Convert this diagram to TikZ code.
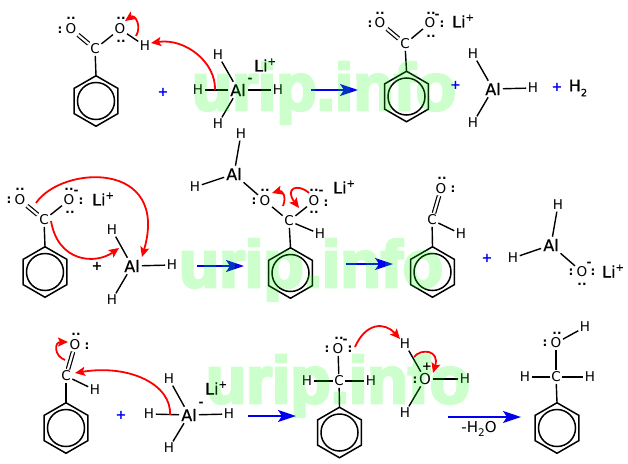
\documentclass[tikz,border=0pt]{standalone}
\usepackage{fontspec}
\usetikzlibrary{shapes.geometric,arrows.meta}
\setmainfont{DejaVu Sans}
\newfontfamily\wmfont[UprightFont={* Bold},FakeBold=4.5]{Liberation Sans}
\newfontfamily\heavyfont[FakeBold=0.6]{DejaVu Sans}
\newcommand{\lisup}{Li\raisebox{.42em}{\fontsize{10}{10}\selectfont +}}

\definecolor{rxblue}{RGB}{0,0,240}
\tikzset{
  atom/.style={inner sep=1.5pt,font=\fontsize{13.5}{14}\selectfont},
  metal/.style={inner sep=2pt,font=\fontsize{16}{16}\heavyfont},
  salt/.style={inner sep=0pt,font=\fontsize{16}{16}\heavyfont},
  pair/.style={inner sep=0pt,font=\fontsize{12}{12}\selectfont\bfseries},
  charge/.style={inner sep=0pt,font=\fontsize{12}{12}\selectfont\bfseries},
  plussign/.style={inner sep=0pt,text=rxblue,font=\fontsize{13}{13}\selectfont\bfseries},
  bond/.style={line width=1.4pt},
  dblbond/.style={double,line width=1.2pt,double distance=2.2pt},
  benzring/.style={draw,regular polygon,regular polygon sides=6,shape border rotate=30,minimum size=50.5pt,inner sep=0pt,outer sep=0pt,line width=1.5pt},
  benzcirc/.style={draw,circle,minimum size=37pt,inner sep=0pt,line width=1.5pt},
  rxarrow/.style={draw=rxblue,line width=2pt,-{Stealth[length=18pt,width=12pt,inset=4pt]}},
  curly/.style={draw=red,line width=1.8pt,-{Stealth[length=10pt,width=9pt,inset=2pt]}},
  sitemark/.style={inner sep=0pt,text=green,font=\fontsize{66}{66}\wmfont}
}

\begin{document}
\begin{tikzpicture}[x=1pt,y=-1pt]
\useasboundingbox (0,0) rectangle (628,463);

% first line: acid + hydride
\node (c1) at (95,49) [atom] {C};
\node (o1a) at (71,29) [atom] {O};
\node (o1b) at (120,29) [atom] {O};
\node (h1) at (145,46) [atom] {H};
\node (r1) at (96,101) [benzring] {};
\node (r1i) at (96,101) [benzcirc] {};
\node (p1a) at (60,30) [pair] {:};
\node (p1b) at (71,18) [pair] {..};
\node (p1c) at (121,18) [pair] {..};
\node (p1d) at (121,41) [pair] {..};
\node (s1) at (163,92) [plussign] {+};
\node (al1) at (238,90) [metal] {Al};
\node (q1) at (250,80) [charge] {-};
\node (h1a) at (218,55) [atom] {H};
\node (h1b) at (198,90) [atom] {H};
\node (h1c) at (278,90) [atom] {H};
\node (h1d) at (218,124) [atom] {H};
\node (li1) at (265,65) [salt] {\lisup};

\draw [dblbond] (c1) -- (o1a);
\draw [bond] (c1) -- (o1b);
\draw [bond] (o1b) -- (h1);
\draw [bond] (c1) -- (r1.corner 1);
\draw [bond] (al1) -- (h1a);
\draw [bond] (al1) -- (h1b);
\draw [bond] (al1) -- (h1c);
\draw [bond] (al1) -- (h1d);

\coordinate (k1a) at (215,90);
\coordinate (k1b) at (151,43);
\coordinate (k1c) at (136,36);
\coordinate (k1d) at (125,21);
\draw [curly] (k1a) .. controls (216,62) and (185,38) .. (k1b);
\draw [curly] (k1c) .. controls (142,26) and (135,14) .. (k1d);

\coordinate (a1s) at (311,90);
\coordinate (a1e) at (358,90);
\draw [rxarrow] (a1s) -- (a1e);

\node (c2) at (405,44) [atom] {C};
\node (o2a) at (380,23) [atom] {O};
\node (o2b) at (430,23) [atom] {O};
\node (r2) at (406.5,96.5) [benzring] {};
\node (r2i) at (406.5,96.5) [benzcirc] {};
\node (p2a) at (370,24) [pair] {:};
\node (p2b) at (380,13) [pair] {..};
\node (p2c) at (431,13) [pair] {..};
\node (p2d) at (431,36) [pair] {..};
\node (p2e) at (442,24) [pair] {:};
\node (q2) at (437,16) [charge] {-};
\node (li2) at (463,21) [salt] {\lisup};
\node (s2) at (455.5,85.5) [plussign] {+};
\node (al2) at (493,89) [metal] {Al};
\node (h2a) at (473,54) [atom] {H};
\node (h2b) at (533,88) [atom] {H};
\node (h2c) at (473,123) [atom] {H};
\node (s3) at (557,87) [plussign] {+};
\node (h2g) at (578,88) [salt] {H\raisebox{-.3em}{\fontsize{10}{10}\selectfont 2}};

\draw [dblbond] (c2) -- (o2a);
\draw [bond] (c2) -- (o2b);
\draw [bond] (c2) -- (r2.corner 1);
\draw [bond] (al2) -- (h2a);
\draw [bond] (al2) -- (h2b);
\draw [bond] (al2) -- (h2c);

% second line: carboxylate + AlH3
\node (c3) at (44,220) [atom] {C};
\node (o3a) at (20,200) [atom] {O};
\node (o3b) at (69,200) [atom] {O};
\node (r3) at (45,272) [benzring] {};
\node (r3i) at (45,272) [benzcirc] {};
\node (p3a) at (9,200) [pair] {:};
\node (p3b) at (20,189) [pair] {..};
\node (p3c) at (69,189) [pair] {..};
\node (p3d) at (70,212) [pair] {..};
\node (p3e) at (81,201) [pair] {:};
\node (q3) at (76,192) [charge] {-};
\node (li3) at (103,199) [salt] {\lisup};
\node (s4) at (97,266) [plussign,text=black] {+};
\node (al3) at (132,266) [metal] {Al};
\node (h3a) at (112,230) [atom] {H};
\node (h3b) at (172,265) [atom] {H};
\node (h3c) at (112,300) [atom] {H};

\draw [dblbond] (c3) -- (o3a);
\draw [bond] (c3) -- (o3b);
\draw [bond] (c3) -- (r3.corner 1);
\draw [bond] (al3) -- (h3a);
\draw [bond] (al3) -- (h3b);
\draw [bond] (al3) -- (h3c);

\coordinate (k3a) at (36,203);
\coordinate (k3b) at (142,257);
\coordinate (k3c) at (51,221);
\coordinate (k3d) at (119,248);
\draw [curly] (k3a) .. controls (62,165) and (170,160) .. (k3b);
\draw [curly] (k3c) .. controls (58,262) and (95,265) .. (k3d);

\coordinate (a3s) at (197,266);
\coordinate (a3e) at (244,266);
\draw [rxarrow] (a3s) -- (a3e);

\node (al4) at (234,174) [metal] {Al};
\node (h4a) at (241,134) [atom] {H};
\node (h4b) at (195,187) [atom] {H};
\node (o4a) at (265,201) [atom] {O};
\node (o4b) at (314,201) [atom] {O};
\node (c4) at (289,221) [atom] {C};
\node (h4c) at (320,234) [atom] {H};
\node (r4) at (290.5,273) [benzring] {};
\node (r4i) at (290.5,273) [benzcirc] {};
\node (p4a) at (254,201) [pair] {:};
\node (p4b) at (265,190) [pair] {..};
\node (p4c) at (314,190) [pair] {..};
\node (p4d) at (314,212) [pair] {..};
\node (p4e) at (326,203) [pair] {:};
\node (q4) at (321,192) [charge] {-};
\node (li4) at (344,187) [salt] {\lisup};

\draw [bond] (al4) -- (h4a);
\draw [bond] (al4) -- (h4b);
\draw [bond] (al4) -- (o4a);
\draw [bond] (o4a) -- (c4);
\draw [bond] (o4b) -- (c4);
\draw [bond] (c4) -- (h4c);
\draw [bond] (c4) -- (r4.corner 1);

\coordinate (k4a) at (283,206);
\coordinate (k4b) at (272,193);
\coordinate (k4c) at (309,193);
\coordinate (k4d) at (299,208);
\draw [curly] (k4a) .. controls (287,196) and (282,190) .. (k4b);
\draw [curly] (k4c) .. controls (298,183) and (284,188) .. (k4d);

\coordinate (a4s) at (346,264);
\coordinate (a4e) at (393,264);
\draw [rxarrow] (a4s) -- (a4e);

\node (c5) at (432,220) [atom] {C};
\node (o5) at (441,189) [atom] {O};
\node (h5) at (461,234) [atom] {H};
\node (r5) at (432.5,272) [benzring] {};
\node (r5i) at (432.5,272) [benzcirc] {};
\node (p5a) at (442,178) [pair] {..};
\node (p5b) at (453,189) [pair] {:};
\node (s5) at (487,258) [plussign] {+};
\node (al5) at (551,245) [metal] {Al};
\node (h5a) at (558,205) [atom] {H};
\node (h5b) at (513,258) [atom] {H};
\node (o5b) at (582,272) [atom] {O};
\node (p5c) at (571,272) [pair] {:};
\node (p5d) at (593,272) [pair] {:};
\node (p5e) at (582,284) [pair] {..};
\node (q5) at (589,264) [charge] {-};
\node (li5) at (613,271) [salt] {\lisup};

\draw [dblbond] (c5) -- (o5);
\draw [bond] (c5) -- (h5);
\draw [bond] (c5) -- (r5.corner 1);
\draw [bond] (al5) -- (h5a);
\draw [bond] (al5) -- (h5b);
\draw [bond] (al5) -- (o5b);

% third line: aldehyde + hydride
\node (c6) at (66,376) [atom] {C};
\node (o6) at (75,345) [atom] {O};
\node (h6) at (95,390) [atom] {H};
\node (r6) at (66,428) [benzring] {};
\node (r6i) at (66,428) [benzcirc] {};
\node (p6a) at (76,334) [pair] {..};
\node (p6b) at (87,346) [pair] {:};
\node (s6) at (121,415) [plussign] {+};
\node (al6) at (189,415) [metal] {Al};
\node (q6) at (201,404) [charge] {-};
\node (h6a) at (169,379) [atom] {H};
\node (h6b) at (149,414) [atom] {H};
\node (h6c) at (229,414) [atom] {H};
\node (h6d) at (169,448) [atom] {H};
\node (li6) at (216,388) [salt] {\lisup};

\draw [dblbond] (c6) -- (o6);
\draw [bond] (c6) -- (h6);
\draw [bond] (c6) -- (r6.corner 1);
\draw [bond] (al6) -- (h6a);
\draw [bond] (al6) -- (h6b);
\draw [bond] (al6) -- (h6c);
\draw [bond] (al6) -- (h6d);

\coordinate (k6a) at (65,360);
\coordinate (k6b) at (68,342);
\coordinate (k6c) at (170,415);
\coordinate (k6d) at (75,373);
\draw [curly] (k6a) .. controls (54,356) and (54,342) .. (k6b);
\draw [curly] (k6c) .. controls (172,385) and (130,364) .. (k6d);

\coordinate (a6s) at (248,416);
\coordinate (a6e) at (296,416);
\draw [rxarrow] (a6s) -- (a6e);

\node (c7) at (339,381) [atom] {C};
\node (o7) at (338,349) [atom] {O};
\node (h7a) at (307,381) [atom] {H};
\node (h7b) at (371,381) [atom] {H};
\node (r7) at (339.5,432.5) [benzring] {};
\node (r7i) at (339.5,432.5) [benzcirc] {};
\node (p7a) at (339,338) [pair] {..};
\node (p7b) at (327,349) [pair] {:};
\node (p7c) at (350,349) [pair] {:};
\node (q7) at (345,341) [charge] {-};
\node (o8) at (425,379) [atom,font=\fontsize{15}{15}\selectfont] {O};
\node (q8) at (427,367) [charge] {+};
\node (p8) at (415,380) [pair] {:};
\node (h8a) at (405,344) [atom] {H};
\node (h8b) at (465,379) [atom] {H};
\node (h8c) at (405,413) [atom] {H};

\draw [bond] (o7) -- (c7);
\draw [bond] (c7) -- (h7a);
\draw [bond] (c7) -- (h7b);
\draw [bond] (c7) -- (r7.corner 1);
\draw [bond] (o8) -- (h8a);
\draw [bond] (o8) -- (h8b);
\draw [bond] (o8) -- (h8c);

\coordinate (k7a) at (355,347);
\coordinate (k7b) at (400,339);
\coordinate (k7c) at (414,357);
\coordinate (k7d) at (433,373);
\draw [curly] (k7a) .. controls (366,322) and (385,322) .. (k7b);
\draw [curly] (k7c) .. controls (421,348) and (440,350) .. (k7d);

\coordinate (a7s) at (448,417);
\coordinate (a7e) at (521,417);
\draw [rxarrow] (a7s) -- (a7e);
\node (w7) at (479,429) [inner sep=0pt,font=\fontsize{15}{15}\selectfont] {-H\raisebox{-.3em}{\fontsize{10.5}{10.5}\selectfont 2}O};

\node (c9) at (556,377) [atom] {C};
\node (o9) at (556,343) [atom] {O};
\node (h9a) at (585,327) [atom] {H};
\node (h9b) at (525,377) [atom] {H};
\node (h9c) at (590,377) [atom] {H};
\node (r9) at (557,428) [benzring] {};
\node (r9i) at (557,428) [benzcirc] {};
\node (p9a) at (557,333) [pair] {..};
\node (p9b) at (545,343) [pair] {:};

\draw [bond] (o9) -- (c9);
\draw [bond] (o9) -- (h9a);
\draw [bond] (c9) -- (h9b);
\draw [bond] (c9) -- (h9c);
\draw [bond] (c9) -- (r9.corner 1);

% site marks lie over everything
\begin{scope}[transparency group,opacity=0.2]
\node (m1) at (324,110) [sitemark,anchor=base] {urip.info};
\node (m2) at (311,287) [sitemark,anchor=base] {urip.info};
\node (m3) at (338,403) [sitemark,anchor=base] {urip.info};
\end{scope}

\end{tikzpicture}
\end{document}
